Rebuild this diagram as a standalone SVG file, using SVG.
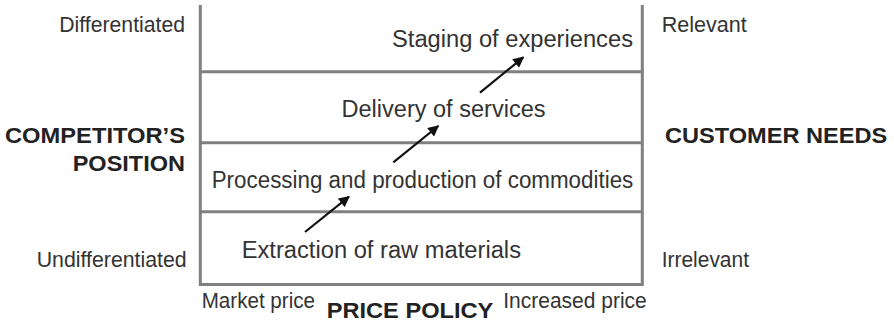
<svg xmlns="http://www.w3.org/2000/svg" width="894" height="322" viewBox="0 0 894 322">
<style>
.t{font-family:"Liberation Sans",Arial,sans-serif;fill:#333;font-size:21.5px}
.m{font-size:23px}
.b{font-family:"Liberation Sans",Arial,sans-serif;fill:#222;font-size:21.5px;font-weight:bold}
.ln{stroke:#808080;stroke-width:3;fill:none}
.ar{stroke:#111;stroke-width:2.2;fill:none;marker-end:url(#ah)}
</style>
<defs>
<marker id="ah" viewBox="0 0 10 10" refX="9" refY="5" markerWidth="5.5" markerHeight="5" orient="auto" markerUnits="strokeWidth">
<path d="M0,0 L10,5 L0,10 Z" fill="#111"/>
</marker>
</defs>
<rect width="894" height="322" fill="#fff"/>
<g id="frame">
<path class="ln" d="M200.3,5 V284.5 H642.3 V5"/>
<line class="ln" x1="200" y1="71.7" x2="642" y2="71.7"/>
<line class="ln" x1="200" y1="142.7" x2="642" y2="142.7"/>
<line class="ln" x1="200" y1="211.7" x2="642" y2="211.7"/>
</g>
<g id="stage4"><text class="t m" x="392" y="47" textLength="241" lengthAdjust="spacingAndGlyphs">Staging of experiences</text></g>
<g id="stage3"><text class="t m" x="341.5" y="117" textLength="204" lengthAdjust="spacingAndGlyphs">Delivery of services</text></g>
<g id="stage2"><text class="t m" x="211.7" y="188" textLength="421.6" lengthAdjust="spacingAndGlyphs">Processing and production of commodities</text></g>
<g id="stage1"><text class="t m" x="241.7" y="257.5" textLength="279.3" lengthAdjust="spacingAndGlyphs">Extraction of raw materials</text></g>
<g id="left-axis">
<text class="t" x="59.3" y="31.7" textLength="125.7" lengthAdjust="spacingAndGlyphs">Differentiated</text>
<text class="b" x="5" y="142.5" textLength="180" lengthAdjust="spacingAndGlyphs">COMPETITOR’S</text>
<text class="b" x="72.7" y="170.5" textLength="112.3" lengthAdjust="spacingAndGlyphs">POSITION</text>
<text class="t" x="36.7" y="266.7" textLength="150" lengthAdjust="spacingAndGlyphs">Undifferentiated</text>
</g>
<g id="right-axis">
<text class="t" x="661.7" y="31.7" textLength="85" lengthAdjust="spacingAndGlyphs">Relevant</text>
<text class="b" x="665" y="143.3" textLength="222.3" lengthAdjust="spacingAndGlyphs">CUSTOMER NEEDS</text>
<text class="t" x="661.7" y="266.7" textLength="87.3" lengthAdjust="spacingAndGlyphs">Irrelevant</text>
</g>
<g id="bottom-axis">
<text class="t" x="201.7" y="308.3" textLength="113.3" lengthAdjust="spacingAndGlyphs">Market price</text>
<text class="b" x="326.7" y="318.3" textLength="166.6" lengthAdjust="spacingAndGlyphs">PRICE POLICY</text>
<text class="t" x="503.3" y="308.3" textLength="143.4" lengthAdjust="spacingAndGlyphs">Increased price</text>
</g>
<g id="connectors">
<line class="ar" x1="305" y1="232" x2="349" y2="196.7"/>
<line class="ar" x1="393.3" y1="162.3" x2="438.3" y2="126"/>
<line class="ar" x1="480" y1="92.7" x2="523.3" y2="57.3"/>
</g>
</svg>
